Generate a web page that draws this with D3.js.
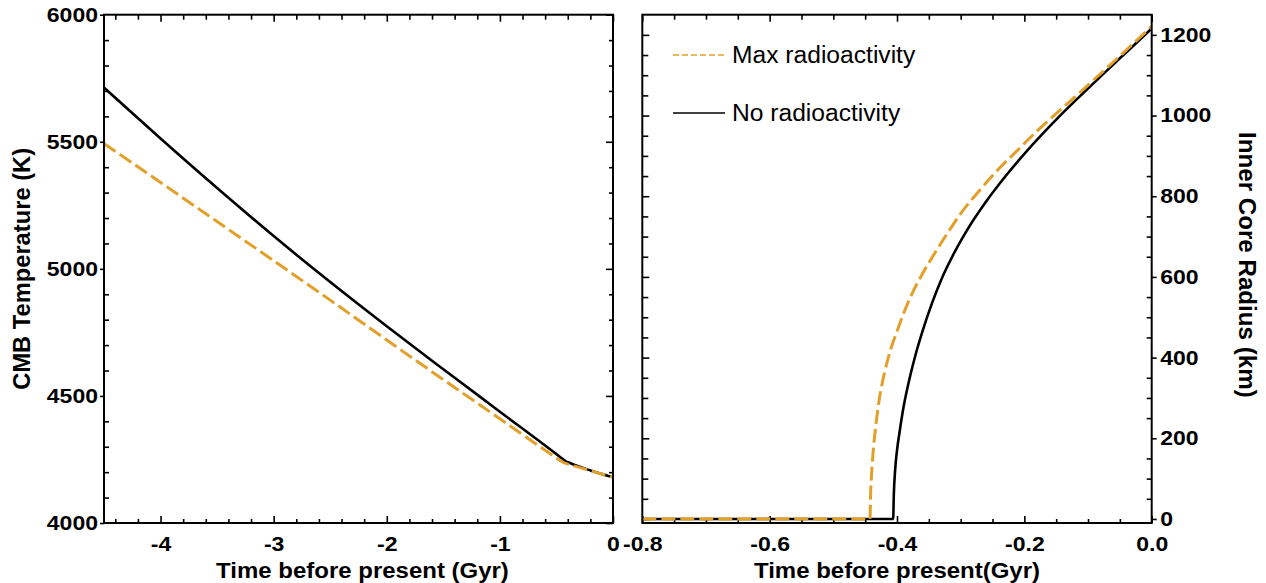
<!DOCTYPE html>
<html>
<head>
<meta charset="utf-8">
<script src="https://cdn.jsdelivr.net/npm/d3@7"></script>
<style>
  body { margin: 0; background: #fff; }
  svg { display: block; }
  text { font-family: "Liberation Sans", Arial, Helvetica, sans-serif; fill: #000; }
</style>
</head>
<body>
<svg id="chart" width="1266" height="583"></svg>
<script>
// ---- Core–mantle boundary temperature (K) vs time before present (Gyr)
const cmbTime = [-4.5, -4.0, -3.5, -3.0, -2.5, -2.0, -1.5, -1.0, -0.5, -0.45, -0.42, -0.38, -0.3, -0.2, -0.1, 0];
const cmbNoRad  = [5713, 5513, 5318, 5129, 4948, 4774, 4605, 4438, 4271, 4254, 4244, 4236, 4222, 4207, 4193, 4180];
const cmbMaxRad = [5493, 5340, 5186, 5032, 4877, 4720, 4564, 4410, 4256, 4241, 4235, 4229, 4219, 4206, 4193, 4180];

// ---- Inner core radius (km) vs time before present (Gyr)
const icTimeNoRad = [-0.8, -0.406, -0.405, -0.403, -0.4, -0.396, -0.39, -0.38, -0.37, -0.36, -0.345, -0.33, -0.31,
  -0.29, -0.26, -0.23, -0.2, -0.17, -0.14, -0.11, -0.08, -0.05, -0.02, 0];
const icNoRad = [0, 0, 60, 120, 170, 215, 275, 350, 412, 465, 535, 595, 660,
  716, 787, 849, 905, 957, 1006, 1052, 1097, 1142, 1186, 1216];
const icTimeMaxRad = [-0.8, -0.4424, -0.4415, -0.44, -0.437, -0.433, -0.428, -0.42, -0.41, -0.4, -0.39, -0.375,
  -0.36, -0.345, -0.325, -0.3, -0.27, -0.24, -0.21, -0.18, -0.15, -0.12, -0.09, -0.06, -0.03, 0];
const icMaxRad = [0, 0, 60, 110, 175, 235, 295, 360, 420, 465, 508, 563,
  608, 648, 698, 757, 815, 868, 915, 962, 1005, 1047, 1090, 1133, 1177, 1221];

// ---- Axis ticks
const cmbXMajor = [-4, -3, -2, -1, 0];
const cmbYMajor = [4000, 4500, 5000, 5500, 6000];
const icXMajor = [-0.8, -0.6, -0.4, -0.2, 0.0];
const icYMajor = [0, 200, 400, 600, 800, 1000, 1200];

const seriesNames = ["Max radioactivity", "No radioactivity"];

// ---- Layout
const svg = d3.select("#chart");
const P1 = { x0: 104, x1: 613, y0: 14.7, y1: 523 };
const P2 = { x0: 642.3, x1: 1151.7, y0: 14.7, y1: 523 };
const ORANGE = "#e2a02a";

const x1 = d3.scaleLinear().domain([-4.5, 0]).range([P1.x0, P1.x1]);
const y1 = d3.scaleLinear().domain([4000, 6000]).range([P1.y1, P1.y0]);
const x2 = d3.scaleLinear().domain([-0.8, 0]).range([P2.x0, P2.x1]);
const y2 = d3.scaleLinear().domain([-10, 1250]).range([P2.y1, P2.y0]);

const hyphen = s => s.replace(/\u2212/g, "-");
const fmtInt = d => hyphen(d3.format("d")(d));
const fmt1 = d => hyphen(d3.format(".1f")(d));

function range(a, b, step) {
  const out = [];
  const n = Math.round((b - a) / step);
  for (let i = 0; i <= n; i++) out.push(+(a + i * step).toFixed(6));
  return out;
}
function minorOf(all, majors) {
  return all.filter(v => !majors.some(m => Math.abs(m - v) < 1e-6));
}

// stretch text horizontally to the wide bold look
function stretch(sel, k) {
  sel.each(function () {
    const w = this.getComputedTextLength();
    d3.select(this).attr("textLength", w * k).attr("lengthAdjust", "spacingAndGlyphs");
  });
}

function drawTicks(parent, axisFn, scale, values, size, tx, ty, fmt, pad) {
  const g = parent.append("g").attr("transform", `translate(${tx},${ty})`);
  const a = axisFn(scale).tickValues(values).tickSizeInner(size).tickSizeOuter(0)
    .tickPadding(pad == null ? 3 : pad).tickFormat(fmt || (() => ""));
  g.call(a);
  g.select(".domain").remove();
  g.selectAll(".tick line").attr("stroke", "#000").attr("stroke-width", 1.6);
  g.selectAll(".tick text")
    .attr("fill", "#000")
    .style("font-family", '"Liberation Sans", Arial, sans-serif')
    .style("font-weight", "bold")
    .style("font-size", "20px");
  if (fmt) stretch(g.selectAll(".tick text"), 1.15);
  return g;
}

// ---- Panel 1: CMB temperature
const g1 = svg.append("g");
const x1Minor = minorOf(range(-4.4, -0.2, 0.2), cmbXMajor);
const y1Minor = minorOf(range(4100, 5900, 100), cmbYMajor);

drawTicks(g1, d3.axisLeft, y1, cmbYMajor, 4, P1.x0, 0, fmtInt, 2);      // labelled, outward
drawTicks(g1, d3.axisRight, y1, y1Minor, 5, P1.x0, 0);                 // minor, inward
drawTicks(g1, d3.axisLeft, y1, cmbYMajor, 7, P1.x1, 0);                // right side, inward
drawTicks(g1, d3.axisLeft, y1, y1Minor, 4, P1.x1, 0);
drawTicks(g1, d3.axisTop, x1, cmbXMajor, 7, 0, P1.y1);                 // bottom, inward
drawTicks(g1, d3.axisTop, x1, x1Minor, 4, 0, P1.y1);
drawTicks(g1, d3.axisBottom, x1, cmbXMajor, 0, 0, P1.y1, fmtInt, 14);  // bottom labels
drawTicks(g1, d3.axisBottom, x1, cmbXMajor, 7, 0, P1.y0);              // top, inward
drawTicks(g1, d3.axisBottom, x1, x1Minor, 5, 0, P1.y0);

svg.append("clipPath").attr("id", "clip1").append("rect")
  .attr("x", P1.x0).attr("y", P1.y0).attr("width", P1.x1 - P1.x0).attr("height", P1.y1 - P1.y0);

const line1 = d3.line().x(d => x1(d[0])).y(d => y1(d[1])).curve(d3.curveMonotoneX);
const plot1 = g1.append("g").attr("clip-path", "url(#clip1)");
plot1.append("path").datum(cmbTime.map((t, i) => [t, cmbNoRad[i]]))
  .attr("d", line1).attr("fill", "none").attr("stroke", "#000").attr("stroke-width", 2.6);
plot1.append("path").datum(cmbTime.map((t, i) => [t, cmbMaxRad[i]]))
  .attr("d", line1).attr("fill", "none").attr("stroke", ORANGE).attr("stroke-width", 3)
  .attr("stroke-dasharray", "14,5");

g1.append("rect").attr("x", P1.x0).attr("y", P1.y0)
  .attr("width", P1.x1 - P1.x0).attr("height", P1.y1 - P1.y0)
  .attr("fill", "none").attr("stroke", "#000").attr("stroke-width", 2);

const t1 = g1.append("text").attr("x", (P1.x0 + P1.x1) / 2 + 4).attr("y", 578)
  .attr("text-anchor", "middle").style("font-weight", "bold").style("font-size", "22px")
  .text("Time before present (Gyr)");
stretch(t1, 1.09);
const t2 = g1.append("text").attr("transform", `translate(30,${(P1.y0 + P1.y1) / 2}) rotate(-90)`)
  .attr("text-anchor", "middle").style("font-weight", "bold").style("font-size", "23px")
  .text("CMB Temperature (K)");
stretch(t2, 1.03);

// ---- Panel 2: inner core radius
const g2 = svg.append("g");
const x2Minor = minorOf(range(-0.75, -0.05, 0.05), icXMajor);
const y2Minor = minorOf(range(50, 1150, 50), icYMajor);

drawTicks(g2, d3.axisRight, y2, icYMajor, 7, P2.x0, 0);                 // left side, inward
drawTicks(g2, d3.axisRight, y2, y2Minor, 6, P2.x0, 0);
drawTicks(g2, d3.axisRight, y2, icYMajor, 5, P2.x1, 0, fmtInt, 3.5);    // labelled, outward
drawTicks(g2, d3.axisLeft, y2, y2Minor, 5, P2.x1, 0);                  // minor, inward
drawTicks(g2, d3.axisTop, x2, icXMajor, 7, 0, P2.y1);
drawTicks(g2, d3.axisTop, x2, x2Minor, 4, 0, P2.y1);
drawTicks(g2, d3.axisBottom, x2, icXMajor, 0, 0, P2.y1, fmt1, 14);
drawTicks(g2, d3.axisBottom, x2, icXMajor, 7, 0, P2.y0);
drawTicks(g2, d3.axisBottom, x2, x2Minor, 5, 0, P2.y0);

svg.append("clipPath").attr("id", "clip2").append("rect")
  .attr("x", P2.x0).attr("y", P2.y0).attr("width", P2.x1 - P2.x0).attr("height", P2.y1 - P2.y0);

const line2 = d3.line().x(d => x2(d[0])).y(d => y2(d[1])).curve(d3.curveMonotoneX);
const plot2 = g2.append("g").attr("clip-path", "url(#clip2)");
plot2.append("path").datum(icTimeNoRad.map((t, i) => [t, icNoRad[i]]))
  .attr("d", line2).attr("fill", "none").attr("stroke", "#000").attr("stroke-width", 2.6);
plot2.append("path").datum(icTimeMaxRad.map((t, i) => [t, icMaxRad[i]]))
  .attr("d", line2).attr("fill", "none").attr("stroke", ORANGE).attr("stroke-width", 3)
  .attr("stroke-dasharray", "14,5");

g2.append("rect").attr("x", P2.x0).attr("y", P2.y0)
  .attr("width", P2.x1 - P2.x0).attr("height", P2.y1 - P2.y0)
  .attr("fill", "none").attr("stroke", "#000").attr("stroke-width", 2);

const t3 = g2.append("text").attr("x", (P2.x0 + P2.x1) / 2).attr("y", 578)
  .attr("text-anchor", "middle").style("font-weight", "bold").style("font-size", "22px")
  .text("Time before present(Gyr)");
stretch(t3, 1.09);
const t4 = g2.append("text").attr("transform", `translate(1238.5,${(P2.y0 + P2.y1) / 2 - 4}) rotate(90)`)
  .attr("text-anchor", "middle").style("font-weight", "bold").style("font-size", "23px")
  .text("Inner Core Radius (km)");
stretch(t4, 1.05);

// ---- Legend
const legend = g2.append("g");
const legendStyles = [
  { color: ORANGE, dash: "6,3", y: 55 },
  { color: "#000", dash: null, y: 113 }
];
seriesNames.forEach((name, i) => {
  const s = legendStyles[i];
  legend.append("line").attr("x1", 673).attr("x2", 725).attr("y1", s.y).attr("y2", s.y)
    .attr("stroke", s.color).attr("stroke-width", 1.6)
    .attr("stroke-dasharray", s.dash);
  const t = legend.append("text").attr("x", 732).attr("y", s.y + 7.5)
    .style("font-size", "23px").text(name);
  stretch(t, 1.07);
});
</script>
</body>
</html>
